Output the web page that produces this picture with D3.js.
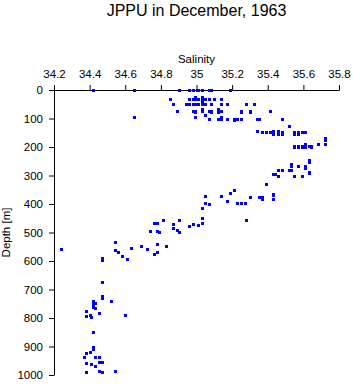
<!DOCTYPE html>
<html>
<head>
<meta charset="utf-8">
<script src="https://cdn.jsdelivr.net/npm/d3@7"></script>
<style>
  html, body { margin: 0; padding: 0; background: #fff; }
  svg text { font-family: "Liberation Sans", Arial, Helvetica, sans-serif; fill: #000; }
</style>
</head>
<body>
<div id="chart"></div>
<script>
// depth levels [m] and the salinity samples read at each level
const depths = [
  0, 25, 31, 36, 42, 49, 67, 72, 77, 86, 95, 100, 104, 128, 143, 149, 153, 170, 174,
  190, 197, 201, 246, 251, 260, 268, 274, 282, 286, 290, 295, 300, 330, 351, 362, 365,
  369, 371, 375, 381, 384, 390, 395, 399, 414, 450, 455, 465, 469, 471, 474, 478, 485,
  492, 494, 498, 534, 540, 547, 549, 553, 559, 563, 567, 569, 575, 582, 588, 593, 594,
  596, 672, 722, 731, 740, 746, 752, 760, 766, 775, 783, 790, 794, 795, 850, 903, 910,
  920, 924, 936, 938, 953, 956, 959, 961, 968, 986, 990
];
const salinities = [
  [34.42, 34.65, 34.90, 34.96, 34.98, 35.00, 35.01, 35.03, 35.07, 35.08, 35.19],
  [34.99, 35.03],
  [34.85, 34.96, 34.98, 34.99, 35.01, 35.03, 35.05, 35.07, 35.10, 35.14],
  [35.03],
  [35.03],
  [34.87, 34.94, 34.96, 34.98, 34.99, 35.01, 35.03, 35.05, 35.08, 35.14, 35.17, 35.28, 35.32],
  [35.03, 35.12],
  [34.89, 34.98, 34.99, 35.03, 35.07, 35.08, 35.12, 35.14, 35.25, 35.30, 35.41],
  [34.99, 35.08, 35.12, 35.25, 35.30],
  [35.05],
  [34.65, 34.99, 35.14],
  [35.07, 35.12, 35.14, 35.17, 35.21, 35.23, 35.25, 35.34, 35.35, 35.48],
  [35.21],
  [35.52],
  [35.34, 35.43, 35.46],
  [35.37, 35.39, 35.41, 35.43, 35.46, 35.48, 35.55, 35.57, 35.59, 35.61],
  [35.43, 35.46, 35.48, 35.55, 35.57],
  [35.72],
  [35.72],
  [35.61, 35.68, 35.72],
  [35.55, 35.57, 35.59, 35.61, 35.63, 35.64],
  [35.55, 35.57, 35.59, 35.61, 35.64],
  [35.63],
  [35.63],
  [35.53],
  [35.53, 35.57, 35.61],
  [35.61],
  [35.46, 35.48, 35.52, 35.53],
  [35.63],
  [35.63],
  [35.43, 35.44],
  [35.46, 35.55, 35.59],
  [35.39],
  [35.21],
  [35.19],
  [35.43],
  [35.43],
  [35.05, 35.14],
  [35.30, 35.35, 35.37],
  [35.37],
  [35.43],
  [35.17],
  [35.05, 35.23, 35.25, 35.27],
  [35.07],
  [35.03],
  [35.03],
  [34.81, 34.90, 35.28],
  [34.76, 34.78, 35.03],
  [34.98],
  [34.87],
  [35.01],
  [34.96],
  [34.87],
  [34.89],
  [34.74, 34.78],
  [34.79, 34.90],
  [34.54],
  [34.78],
  [34.83],
  [34.69],
  [34.63],
  [34.24, 34.72],
  [34.54],
  [34.56],
  [34.78],
  [34.76],
  [34.58],
  [34.47],
  [34.47],
  [34.61],
  [34.47],
  [34.47],
  [34.47],
  [34.47],
  [34.52, 34.42],
  [34.43],
  [34.42],
  [34.42],
  [34.43],
  [34.38],
  [34.45],
  [34.40, 34.60],
  [34.38],
  [34.41],
  [34.42],
  [34.42],
  [34.42],
  [34.40],
  [34.38],
  [34.45],
  [34.37, 34.43],
  [34.45],
  [34.47],
  [34.38],
  [34.41],
  [34.43],
  [34.45, 34.54],
  [34.38, 34.47]
];
const salinityTicks = [34.2, 34.4, 34.6, 34.8, 35, 35.2, 35.4, 35.6, 35.8];
const depthTicks = [0, 100, 200, 300, 400, 500, 600, 700, 800, 900, 1000];

const width = 353, height = 384;
const margin = { top: 90, right: 14, bottom: 9, left: 54 };

const svg = d3.select("#chart").append("svg")
  .attr("width", width)
  .attr("height", height);

const x = d3.scaleLinear()
  .domain([34.2, 35.8])
  .range([margin.left, width - margin.right]);
const y = d3.scaleLinear()
  .domain([0, 1000])
  .range([margin.top, height - margin.bottom]);

// 标题
svg.append("text")
  .attr("x", (margin.left + width - margin.right) / 2)
  .attr("y", 16)
  .attr("text-anchor", "middle")
  .attr("font-size", "16px")
  .text("JPPU in December, 1963");

// 顶部盐度轴
const xAxis = svg.append("g")
  .attr("transform", "translate(0," + margin.top + ")")
  .call(d3.axisTop(x)
    .tickValues(salinityTicks)
    .tickSize(5)
    .tickSizeOuter(0)
    .tickPadding(7)
    .tickFormat(d => String(+d.toFixed(1))));

// 左侧深度轴
const yAxis = svg.append("g")
  .attr("transform", "translate(" + margin.left + ",0)")
  .call(d3.axisLeft(y)
    .tickValues(depthTicks)
    .tickSize(5)
    .tickSizeOuter(0)
    .tickPadding(6)
    .tickFormat(d3.format("d")));

[xAxis, yAxis].forEach(g => {
  g.attr("font-family", null).attr("font-size", null);
  g.selectAll("text").attr("font-size", "11.5px").attr("fill", "#000");
  g.selectAll("line, path").attr("stroke", "#000");
});

svg.append("text")
  .attr("x", (margin.left + width - margin.right) / 2)
  .attr("y", 63)
  .attr("text-anchor", "middle")
  .attr("font-size", "11.5px")
  .text("Salinity");

svg.append("text")
  .attr("transform", "translate(10," + ((margin.top + height - margin.bottom) / 2) + ") rotate(-90)")
  .attr("text-anchor", "middle")
  .attr("font-size", "11.5px")
  .text("Depth [m]");

// 展开成点
const points = [];
depths.forEach((d, i) => {
  salinities[i].forEach(s => points.push({ s: s, d: d }));
});

svg.append("g").selectAll("rect")
  .data(points)
  .enter()
  .append("rect")
  .attr("x", d => Math.round(x(d.s)) - 1)
  .attr("y", d => Math.round(y(d.d)) - 1)
  .attr("width", 3)
  .attr("height", 3)
  .attr("fill", "#0000ff");
</script>
</body>
</html>
